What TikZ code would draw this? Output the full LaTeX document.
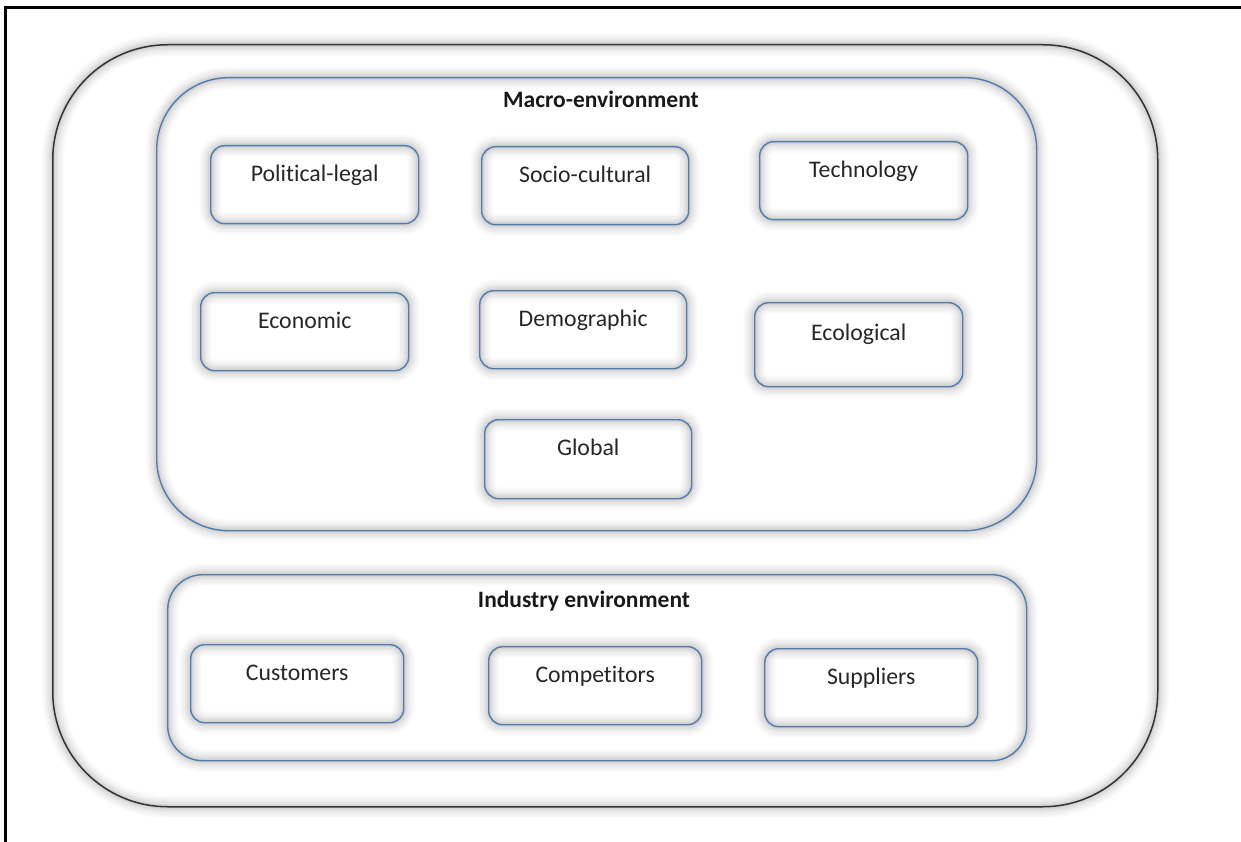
\documentclass[tikz,border=0pt]{standalone}
\usepackage{fontspec}
\setmainfont{Carlito}[Ligatures=NoCommon]
\begin{document}
\begin{tikzpicture}[x=1pt,y=-1pt,
  % soft grey halo drawn under every outline
  glow/.style={
    preaction={draw=black,draw opacity=0.025,line width=22pt},
    preaction={draw=black,draw opacity=0.03,line width=17pt},
    preaction={draw=black,draw opacity=0.035,line width=12pt},
    preaction={draw=black,draw opacity=0.04,line width=8pt},
    preaction={draw=black,draw opacity=0.05,line width=4.5pt}},
  frameline/.style={line width=3pt,black},
  outerbox/.style={draw=black!80,line width=1.5pt,glow,anchor=north west,inner sep=0pt},
  groupbox/.style={draw=boxblue,line width=1.4pt,glow,anchor=north west,inner sep=0pt},
  itembox/.style={draw=boxblue,line width=1.4pt,glow,anchor=north west,inner sep=0pt,
    rounded corners=14pt,minimum width=208pt,text height=36pt,text depth=42pt,
    font=\fontsize{23.8}{28}\selectfont,text=black!85},
  grouptitle/.style={anchor=base,inner sep=0pt,font=\fontsize{23.5}{28}\selectfont\bfseries,text=black!90}
]
\definecolor{boxblue}{RGB}{84,124,170}
\useasboundingbox (0,0) rectangle (1241,842);

% page frame
\coordinate (ftl) at (5,8);
\coordinate (ftr) at (1241,8);
\coordinate (fbl) at (5,842);
\draw[frameline] (ftr) -- (ftl) -- (fbl);

% enclosing environment
\node[outerbox,rounded corners=115pt,minimum width=1105pt,minimum height=762pt] (outer) at (52,44) {};

% macro-environment group
\node[groupbox,rounded corners=72pt,minimum width=880pt,minimum height=453pt] (macro) at (156,77) {};
\node[grouptitle] (macrot) at (601,108) {Macro-environment};

\node[itembox] (pol) at (210,145) {Political-legal};
\node[itembox,minimum width=207pt] (soc) at (481,146) {Socio-cultural};
\node[itembox] (tec) at (759,141) {Technology};
\node[itembox] (eco) at (200,292) {Economic};
\node[itembox,minimum width=207pt] (dem) at (479,290) {Demographic};
\node[itembox,text height=38pt,text depth=46pt] (ecl) at (754,302) {Ecological};
\node[itembox,minimum width=207pt,text depth=43pt] (glo) at (484,419) {Global};

% industry environment group
\node[groupbox,rounded corners=35pt,minimum width=859pt,minimum height=186pt] (industry) at (167,574) {};
\node[grouptitle] (industryt) at (584,607) {Industry environment};

\node[itembox,minimum width=213pt] (cus) at (190,644) {Customers};
\node[itembox,minimum width=213pt] (com) at (488,646) {Competitors};
\node[itembox,minimum width=213pt] (sup) at (764,648) {Suppliers};
\end{tikzpicture}
\end{document}
